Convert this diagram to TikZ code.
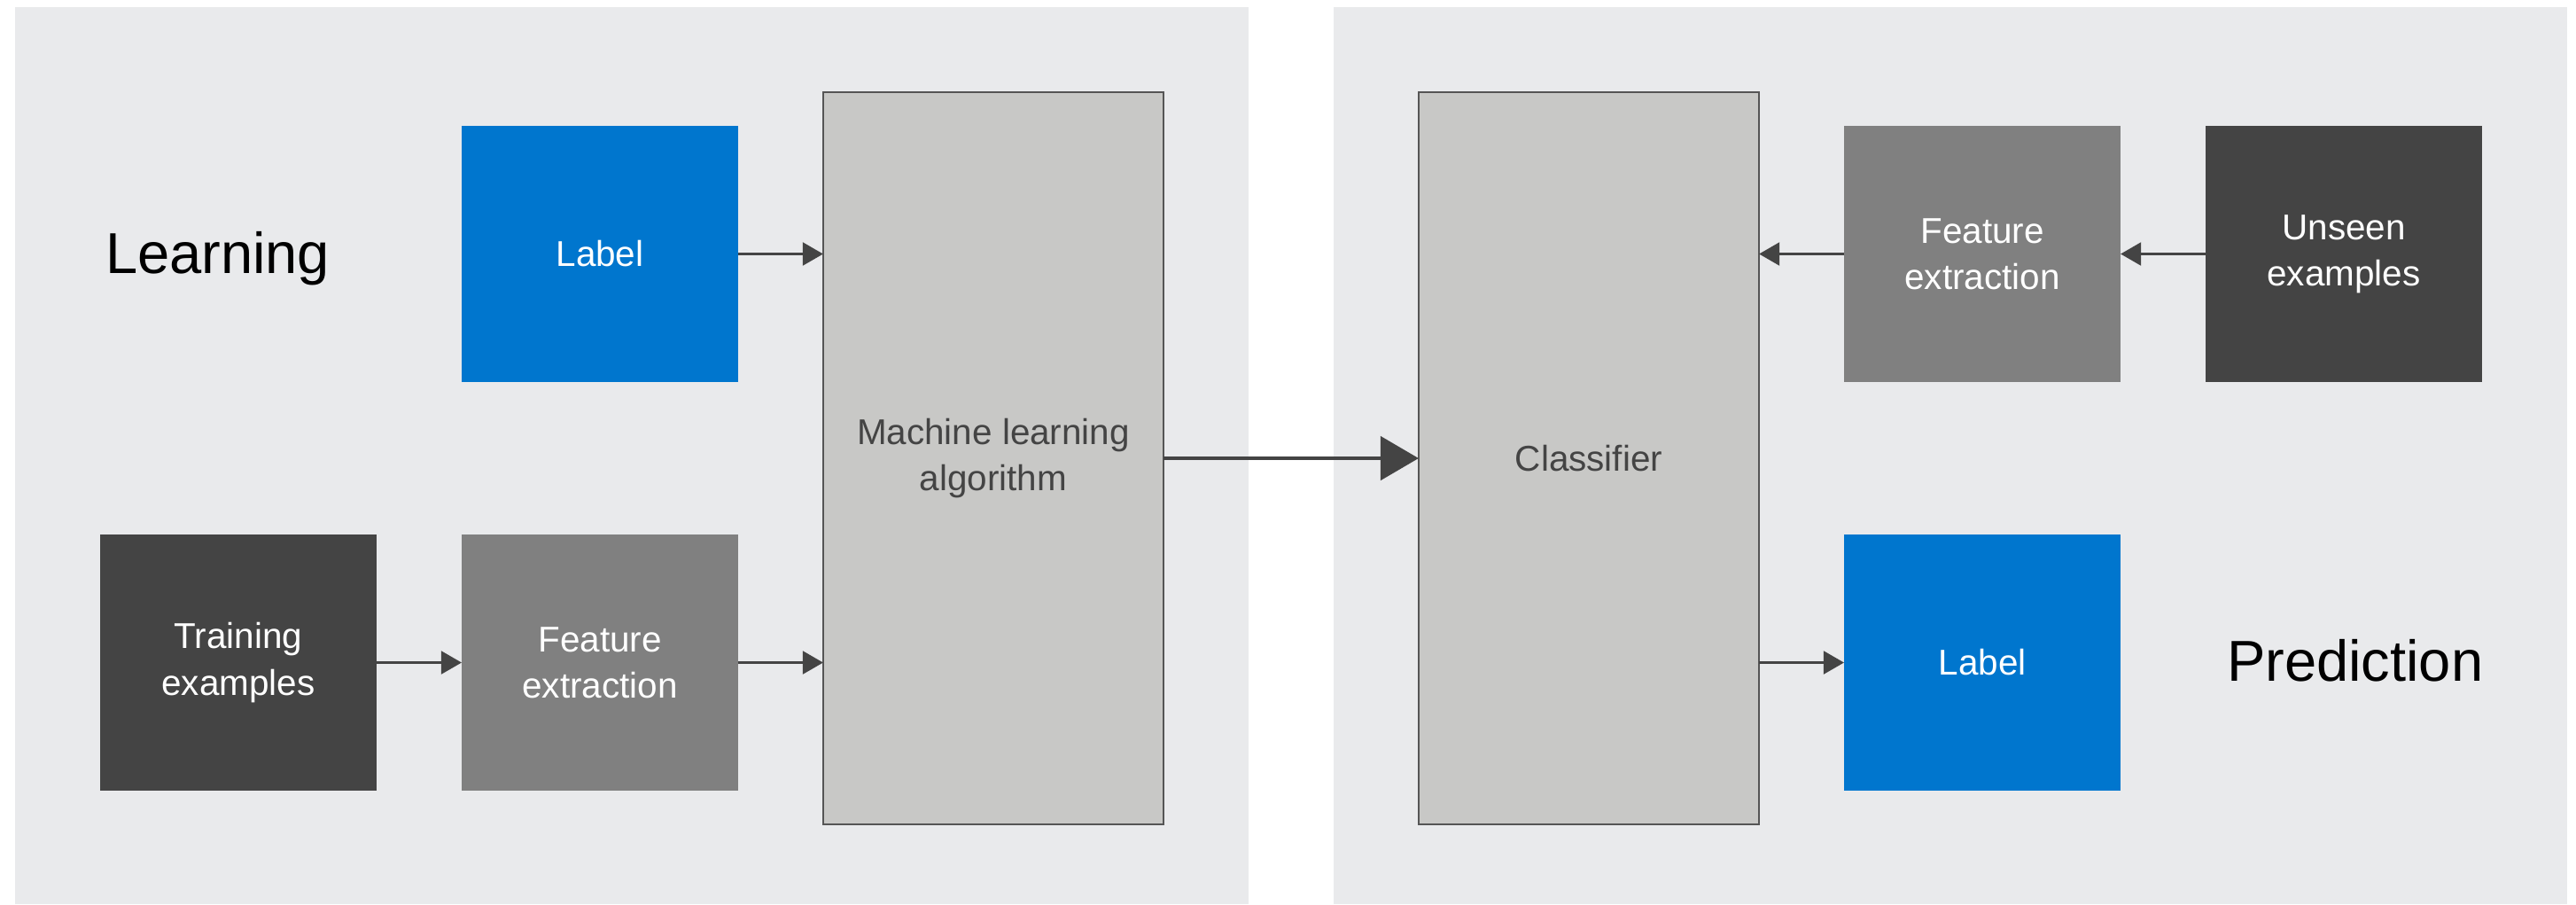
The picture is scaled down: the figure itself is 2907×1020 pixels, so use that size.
\documentclass[tikz,border=0pt]{standalone}
\usepackage{fontspec}
\setmainfont{Liberation Sans}
\usetikzlibrary{arrows.meta}
\definecolor{panelgray}{HTML}{E9EAEC}
\definecolor{dellblue}{HTML}{0076CE}
\definecolor{darkbox}{HTML}{444444}
\definecolor{midbox}{HTML}{808080}
\definecolor{lightbox}{HTML}{C8C8C6}
\definecolor{boxborder}{HTML}{555555}
\definecolor{arrowcol}{HTML}{444444}
\begin{document}
\begin{tikzpicture}[x=0.01cm,y=-0.01cm,
  box/.style={rectangle, inner sep=0pt, outer sep=0pt, minimum width=3.12cm, minimum height=2.89cm,
    align=center, font=\fontsize{11.5}{14.8}\selectfont, text=white},
  bluebox/.style={box, fill=dellblue},
  darkboxs/.style={box, fill=darkbox},
  midboxs/.style={box, fill=midbox},
  tallbox/.style={rectangle, inner sep=0pt, outer sep=0pt, minimum width=3.84cm, minimum height=8.26cm,
    align=center, font=\fontsize{11.5}{14.8}\selectfont, text=darkbox, fill=lightbox, draw=boxborder, line width=0.6pt},
  title/.style={inner sep=0pt, outer sep=0pt, font=\fontsize{18.5}{22}\selectfont, text=black},
  conn/.style={draw=arrowcol, line width=0.6pt, -{Triangle[length=0.23cm,width=0.26cm]}},
  bigconn/.style={draw=arrowcol, line width=1.4pt, -{Triangle[length=0.43cm,width=0.49cm]}}
]
\useasboundingbox (0,0) rectangle (2907,1020);
\fill[panelgray] (17,8) rectangle (1409,1020);
\fill[panelgray] (1505,8) rectangle (2897,1020);

\node[title, anchor=base west] (learn) at (119,308) {Learning};
\node[title, anchor=base west] (pred) at (2513,768) {Prediction};

\node[bluebox] (lab1) at (677,286.5) {Label};
\node[midboxs] (fe1) at (677,747.5) {Feature\\extraction};
\node[darkboxs] (tr) at (269,747.5) {Training\\examples};
\node[tallbox] (ml) at (1121,517) {Machine learning\\algorithm};
\node[tallbox] (cl) at (1793,517) {Classifier};
\node[midboxs] (fe2) at (2237,286.5) {Feature\\extraction};
\node[darkboxs] (un) at (2645,286.5) {Unseen\\examples};
\node[bluebox] (lab2) at (2237,747.5) {Label};

\draw[conn] (lab1.east) -- (lab1.east -| ml.west);
\draw[conn] (tr.east) -- (fe1.west);
\draw[conn] (fe1.east) -- (fe1.east -| ml.west);
\draw[bigconn] (ml.east) -- (cl.west);
\draw[conn] (un.west) -- (fe2.east);
\draw[conn] (fe2.west) -- (fe2.west -| cl.east);
\draw[conn] (lab2.west -| cl.east) -- (lab2.west);
\end{tikzpicture}
\end{document}
